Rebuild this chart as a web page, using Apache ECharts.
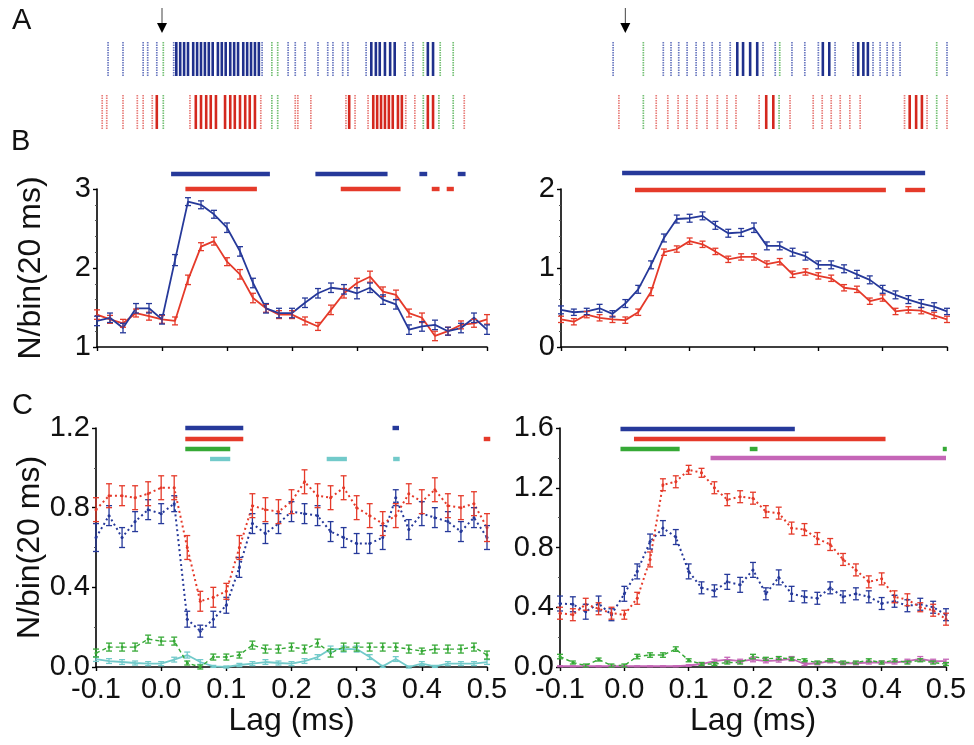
<!DOCTYPE html>
<html>
<head>
<meta charset="utf-8">
<title>Lag histograms</title>
<script src="https://cdn.jsdelivr.net/npm/echarts@6/dist/echarts.min.js"></script>
<style>
  html, body { margin: 0; padding: 0; background: #fff; }
</style>
</head>
<body>
<div id="main" style="width: 974px; height: 745px;"></div>
<script type="text/javascript">
// ---- data ----
var lags = [-0.1, -0.08, -0.06, -0.04, -0.02, 0, 0.02, 0.04, 0.06, 0.08, 0.1, 0.12, 0.14, 0.16, 0.18,
            0.2, 0.22, 0.24, 0.26, 0.28, 0.3, 0.32, 0.34, 0.36, 0.38, 0.4, 0.42, 0.44, 0.46, 0.48, 0.5];

// panel A, spike rasters (lag positions of each tick)
var rasterLeftBlueThin = [-0.083, -0.060, -0.029, -0.022, -0.008, 0.018, 0.154, 0.194, 0.205, 0.220, 0.240, 0.255,
                          0.263, 0.278, 0.286, 0.314, 0.374, 0.386];
var rasterLeftBlueThick = [0.022, 0.028, 0.034, 0.040, 0.048, 0.054, 0.060, 0.066, 0.072, 0.078, 0.086, 0.092, 0.098,
                           0.105, 0.111, 0.117, 0.125, 0.131, 0.137, 0.143, 0.149, 0.322, 0.329, 0.335, 0.343, 0.351,
                           0.358, 0.409, 0.417];
var rasterLeftBlueGreen = [0.002, 0.169, 0.178, 0.402, 0.428, 0.448];
var rasterLeftRedThin = [-0.092, -0.085, -0.060, -0.038, -0.029, -0.015, 0.043, 0.152, 0.205, 0.209, 0.229, 0.283,
                         0.297, 0.317, 0.375, 0.389, 0.465];
var rasterLeftRedThick = [-0.008, 0.052, 0.060, 0.068, 0.075, 0.083, 0.097, 0.105, 0.112, 0.120, 0.128, 0.135, 0.143,
                          0.288, 0.325, 0.331, 0.337, 0.343, 0.349, 0.355, 0.363, 0.369, 0.409, 0.417];
var rasterLeftRedGreen = [0.002, 0.169, 0.178, 0.402, 0.426, 0.448];

var rasterRightBlueThin = [-0.019, 0.059, 0.071, 0.083, 0.096, 0.110, 0.122, 0.135, 0.147, 0.163, 0.214, 0.233,
                           0.259, 0.279, 0.300, 0.326, 0.354, 0.385, 0.396, 0.407, 0.416, 0.427, 0.500];
var rasterRightBlueThick = [0.174, 0.183, 0.194, 0.205, 0.307, 0.317, 0.362, 0.370, 0.377];
var rasterRightBlueGreen = [0.028, 0.240, 0.484];
var rasterRightRedThin = [-0.010, 0.048, 0.066, 0.082, 0.096, 0.111, 0.127, 0.143, 0.158, 0.172, 0.208, 0.256,
                          0.292, 0.306, 0.320, 0.334, 0.349, 0.365, 0.434, 0.469, 0.500];
var rasterRightRedThick = [0.219, 0.230, 0.442, 0.452, 0.461];
var rasterRightRedGreen = [0.028, 0.239, 0.484];

// panel B
var bLeftBlue = [1.33, 1.37, 1.24, 1.49, 1.49, 1.35, 2.10, 2.84, 2.80, 2.68, 2.51, 2.21, 1.81, 1.49, 1.43, 1.43,
                 1.56, 1.68, 1.75, 1.73, 1.68, 1.75, 1.60, 1.54, 1.22, 1.26, 1.28, 1.20, 1.24, 1.37, 1.22];
var bLeftBlueErr = [0.06, 0.06, 0.06, 0.06, 0.06, 0.06, 0.07, 0.05, 0.05, 0.05, 0.06, 0.06, 0.06, 0.06, 0.06, 0.06,
                    0.06, 0.06, 0.06, 0.06, 0.07, 0.06, 0.06, 0.06, 0.06, 0.06, 0.06, 0.05, 0.06, 0.06, 0.06];
var bLeftRed = [1.41, 1.35, 1.30, 1.43, 1.39, 1.35, 1.33, 1.85, 2.27, 2.34, 2.08, 1.92, 1.62, 1.49, 1.41, 1.41,
                1.33, 1.26, 1.47, 1.68, 1.81, 1.89, 1.70, 1.66, 1.43, 1.37, 1.14, 1.20, 1.28, 1.30, 1.35];
var bLeftRedErr = [0.06, 0.05, 0.05, 0.05, 0.05, 0.05, 0.05, 0.06, 0.05, 0.05, 0.05, 0.06, 0.06, 0.05, 0.05, 0.05,
                   0.05, 0.05, 0.06, 0.06, 0.06, 0.07, 0.06, 0.06, 0.05, 0.06, 0.06, 0.05, 0.05, 0.05, 0.06];
var bRightBlue = [0.47, 0.44, 0.45, 0.49, 0.42, 0.55, 0.73, 1.04, 1.38, 1.62, 1.63, 1.66, 1.54, 1.44, 1.45, 1.51,
                  1.28, 1.28, 1.20, 1.15, 1.04, 1.04, 0.99, 0.92, 0.85, 0.73, 0.66, 0.60, 0.55, 0.51, 0.45];
var bRightBlueErr = [0.05, 0.04, 0.04, 0.05, 0.04, 0.05, 0.05, 0.05, 0.05, 0.05, 0.05, 0.05, 0.05, 0.05, 0.05, 0.06,
                     0.05, 0.05, 0.05, 0.05, 0.05, 0.05, 0.05, 0.05, 0.05, 0.05, 0.05, 0.05, 0.05, 0.05, 0.04];
var bRightRed = [0.35, 0.32, 0.41, 0.37, 0.35, 0.34, 0.44, 0.70, 1.20, 1.24, 1.34, 1.30, 1.21, 1.11, 1.14, 1.14,
                 1.05, 1.08, 0.92, 0.95, 0.90, 0.87, 0.75, 0.73, 0.58, 0.62, 0.45, 0.47, 0.46, 0.40, 0.35];
var bRightRedErr = [0.04, 0.04, 0.04, 0.04, 0.04, 0.04, 0.04, 0.05, 0.04, 0.04, 0.04, 0.04, 0.04, 0.04, 0.04, 0.04,
                    0.04, 0.04, 0.04, 0.04, 0.04, 0.04, 0.04, 0.04, 0.04, 0.04, 0.04, 0.04, 0.04, 0.04, 0.04];

// panel C
var cLeftBlue = [0.65, 0.76, 0.65, 0.73, 0.79, 0.77, 0.82, 0.24, 0.18, 0.24, 0.31, 0.50, 0.72, 0.67, 0.72, 0.78,
                 0.77, 0.76, 0.68, 0.65, 0.62, 0.62, 0.65, 0.85, 0.69, 0.77, 0.75, 0.73, 0.68, 0.75, 0.65];
var cLeftBlueErr = [0.07, 0.05, 0.05, 0.05, 0.05, 0.05, 0.04, 0.04, 0.03, 0.04, 0.04, 0.05, 0.05, 0.05, 0.05, 0.05,
                    0.05, 0.05, 0.05, 0.05, 0.05, 0.05, 0.06, 0.04, 0.05, 0.06, 0.05, 0.05, 0.05, 0.05, 0.06];
var cLeftRed = [0.79, 0.86, 0.86, 0.85, 0.87, 0.90, 0.90, 0.60, 0.33, 0.35, 0.38, 0.60, 0.81, 0.79, 0.78, 0.83,
                0.93, 0.86, 0.85, 0.90, 0.80, 0.76, 0.72, 0.76, 0.87, 0.83, 0.89, 0.81, 0.80, 0.82, 0.70];
var cLeftRedErr = [0.06, 0.06, 0.05, 0.06, 0.06, 0.06, 0.06, 0.06, 0.05, 0.05, 0.04, 0.06, 0.06, 0.06, 0.06, 0.06,
                   0.06, 0.06, 0.06, 0.06, 0.06, 0.06, 0.06, 0.06, 0.05, 0.06, 0.06, 0.06, 0.06, 0.06, 0.07];
var cLeftGreen = [0.07, 0.10, 0.10, 0.10, 0.14, 0.13, 0.13, 0.02, 0.00, 0.05, 0.05, 0.06, 0.11, 0.09, 0.09, 0.10,
                  0.09, 0.12, 0.07, 0.10, 0.10, 0.10, 0.10, 0.10, 0.09, 0.08, 0.09, 0.09, 0.09, 0.10, 0.06];
var cLeftGreenErr = [0.02, 0.02, 0.02, 0.02, 0.02, 0.02, 0.02, 0.01, 0.01, 0.015, 0.015, 0.015, 0.02, 0.02, 0.02, 0.02,
                     0.02, 0.02, 0.02, 0.02, 0.02, 0.02, 0.02, 0.02, 0.02, 0.015, 0.02, 0.02, 0.02, 0.02, 0.02];
var cLeftCyan = [0.04, 0.03, 0.025, 0.02, 0.017, 0.017, 0.037, 0.06, 0.025, 0.003, 0.0, 0.01, 0.017, 0.025, 0.02,
                 0.017, 0.03, 0.05, 0.09, 0.09, 0.09, 0.05, 0.003, 0.04, 0.0, 0.017, 0.003, 0.017, 0.017, 0.017, 0.025];
var cLeftCyanErr = [0.012, 0.012, 0.012, 0.01, 0.01, 0.01, 0.012, 0.015, 0.012, 0.005, 0.005, 0.008, 0.01, 0.012,
                    0.01, 0.01, 0.012, 0.012, 0.015, 0.015, 0.015, 0.012, 0.005, 0.012, 0.005, 0.01, 0.005, 0.01,
                    0.01, 0.01, 0.012];

var cRightBlue = [0.425, 0.42, 0.37, 0.425, 0.35, 0.49, 0.64, 0.84, 0.93, 0.87, 0.64, 0.53, 0.51, 0.57, 0.55, 0.65,
                  0.49, 0.60, 0.49, 0.47, 0.46, 0.53, 0.47, 0.49, 0.47, 0.425, 0.44, 0.41, 0.42, 0.40, 0.35];
var cRightBlueErr = [0.05, 0.05, 0.05, 0.05, 0.04, 0.05, 0.05, 0.05, 0.05, 0.05, 0.05, 0.04, 0.04, 0.05, 0.05, 0.05,
                     0.04, 0.05, 0.05, 0.04, 0.04, 0.04, 0.04, 0.04, 0.04, 0.04, 0.04, 0.04, 0.04, 0.04, 0.04];
var cRightRed = [0.36, 0.35, 0.42, 0.39, 0.36, 0.35, 0.46, 0.72, 1.22, 1.24, 1.32, 1.30, 1.20, 1.12, 1.14, 1.13,
                 1.04, 1.03, 0.93, 0.92, 0.86, 0.82, 0.72, 0.65, 0.57, 0.59, 0.47, 0.45, 0.40, 0.38, 0.32];
var cRightRedErr = [0.04, 0.04, 0.04, 0.04, 0.04, 0.03, 0.04, 0.05, 0.04, 0.04, 0.03, 0.03, 0.04, 0.04, 0.04, 0.04,
                    0.04, 0.04, 0.04, 0.04, 0.04, 0.04, 0.04, 0.04, 0.04, 0.04, 0.04, 0.04, 0.03, 0.04, 0.04];
var cRightGreen = [0.07, 0.03, 0.01, 0.05, 0.01, 0.01, 0.07, 0.08, 0.08, 0.12, 0.045, 0.02, 0.02, 0.03, 0.03, 0.07,
                   0.055, 0.06, 0.055, 0.045, 0.03, 0.045, 0.03, 0.03, 0.045, 0.03, 0.045, 0.03, 0.045, 0.03, 0.02];
var cRightGreenErr = [0.015, 0.01, 0.01, 0.01, 0.01, 0.01, 0.015, 0.015, 0.015, 0.015, 0.01, 0.01, 0.01, 0.01, 0.01,
                      0.015, 0.01, 0.01, 0.01, 0.01, 0.01, 0.01, 0.01, 0.01, 0.01, 0.01, 0.01, 0.01, 0.01, 0.01, 0.01];
var cRightMagenta = [0.005, 0.005, 0.005, 0.005, 0.005, 0.005, 0.005, 0.005, 0.005, 0.005, 0.01, 0.02, 0.04, 0.05,
                     0.04, 0.05, 0.04, 0.045, 0.055, 0.02, 0.025, 0.04, 0.025, 0.025, 0.03, 0.03, 0.03, 0.04, 0.055,
                     0.04, 0.04];
var cRightMagentaErr = [0.003, 0.003, 0.003, 0.003, 0.003, 0.003, 0.003, 0.003, 0.003, 0.003, 0.005, 0.01, 0.012,
                        0.015, 0.012, 0.015, 0.012, 0.012, 0.015, 0.01, 0.01, 0.012, 0.01, 0.01, 0.01, 0.01, 0.01,
                        0.012, 0.015, 0.012, 0.012];

// significance bars [start lag, end lag]
var sigBLeftBlue = [[0.014, 0.166], [0.236, 0.347], [0.396, 0.408], [0.455, 0.467]];
var sigBLeftRed = [[0.036, 0.146], [0.275, 0.367], [0.415, 0.427], [0.438, 0.449]];
var sigBRightBlue = [[-0.005, 0.466]];
var sigBRightRed = [[0.015, 0.405], [0.435, 0.466]];
var sigCLeftBlue = [[0.037, 0.126], [0.355, 0.365]];
var sigCLeftRed = [[0.037, 0.126], [0.495, 0.505]];
var sigCLeftGreen = [[0.037, 0.106]];
var sigCLeftCyan = [[0.075, 0.106], [0.254, 0.285], [0.356, 0.366]];
var sigCRightBlue = [[-0.006, 0.265]];
var sigCRightRed = [[0.015, 0.406]];
var sigCRightGreen = [[-0.006, 0.086], [0.195, 0.207], [0.495, 0.500]];
var sigCRightMagenta = [[0.134, 0.500]];

// ---- drawing ----
var FONT = 'Liberation Sans, Arial, sans-serif';
var BLUE = '#26399a', RED = '#e53a2a', GREEN = '#36a936', CYAN = '#72caca', MAGENTA = '#c566b7';

var myChart = echarts.init(document.getElementById('main'));

function pairs(vals) {
    return lags.map(function (l, i) { return [l, vals[i]]; });
}

function lineSeries(g, vals, color, opts) {
    opts = opts || {};
    return {
        type: 'line', xAxisIndex: g, yAxisIndex: g, data: pairs(vals),
        symbol: opts.dots ? 'circle' : 'none', symbolSize: 3,
        lineStyle: { color: color, width: opts.width || 1.8, type: opts.dash || 'solid' },
        itemStyle: { color: color },
        silent: true, z: 3, animation: false
    };
}

function errSeries(g, vals, errs, color) {
    return {
        type: 'custom', xAxisIndex: g, yAxisIndex: g, silent: true, animation: false, z: 4,
        data: lags.map(function (l, i) { return [l, vals[i], errs[i]]; }),
        renderItem: function (params, api) {
            var x = api.value(0), v = api.value(1), e = api.value(2);
            var top = api.coord([x, v + e]), bot = api.coord([x, v - e]);
            var w = 3;
            var st = { stroke: color, lineWidth: 1.3 };
            return {
                type: 'group', children: [
                    { type: 'line', shape: { x1: top[0], y1: top[1], x2: bot[0], y2: bot[1] }, style: st },
                    { type: 'line', shape: { x1: top[0] - w, y1: top[1], x2: top[0] + w, y2: top[1] }, style: st },
                    { type: 'line', shape: { x1: bot[0] - w, y1: bot[1], x2: bot[0] + w, y2: bot[1] }, style: st }
                ]
            };
        }
    };
}

// significance bars sit at a fixed pixel offset from the top of their grid
function sigSeries(g, segs, color, offset) {
    return {
        type: 'custom', xAxisIndex: g, yAxisIndex: g, silent: true, animation: false, clip: false,
        data: segs,
        renderItem: function (params, api) {
            var cs = params.coordSys;
            var x1 = api.coord([api.value(0), 0])[0], x2 = api.coord([api.value(1), 0])[0];
            return {
                type: 'rect', shape: { x: x1, y: cs.y + offset - 2.2, width: Math.max(x2 - x1, 4), height: 4.4 },
                style: { fill: color }
            };
        }
    };
}

function rasterSeries(g, lists) {
    var data = [];
    lists.forEach(function (arr, k) {
        arr.forEach(function (l) { data.push([l, k < 3 ? 0 : 1, k % 3]); });
    });
    return {
        type: 'custom', xAxisIndex: g, yAxisIndex: g, silent: true, animation: false, clip: false,
        data: data,
        renderItem: function (params, api) {
            var cs = params.coordSys;
            var x = api.coord([api.value(0), 0])[0];
            var row = api.value(1), kind = api.value(2);
            var y0 = cs.y + (row === 0 ? 0 : 53);
            var col;
            if (kind === 2) col = '#74c074';
            else if (row === 0) col = kind === 1 ? '#1f308c' : '#6a78c0';
            else col = kind === 1 ? '#d4281e' : '#e87e7a';
            return {
                type: 'line', shape: { x1: x, y1: y0, x2: x, y2: y0 + 34 },
                style: { stroke: col, lineWidth: kind === 1 ? 2.6 : 1.7, lineDash: kind === 1 ? null : [1.4, 1.1] }
            };
        }
    };
}

function arrowSeries(g) {
    return {
        type: 'custom', xAxisIndex: g, yAxisIndex: g, silent: true, animation: false, clip: false,
        data: [[0]],
        renderItem: function (params, api) {
            var cs = params.coordSys;
            var x = api.coord([0, 0])[0];
            var tip = cs.y - 9;
            return {
                type: 'group', children: [
                    { type: 'line', shape: { x1: x, y1: tip - 25, x2: x, y2: tip - 8 }, style: { stroke: '#444', lineWidth: 1 } },
                    { type: 'polygon', shape: { points: [[x - 5, tip - 10], [x + 5, tip - 10], [x, tip]] }, style: { fill: '#000' } }
                ]
            };
        }
    };
}

var grids = [
    { left: 97, width: 390, top: 42, height: 86 },
    { left: 561, width: 386, top: 42, height: 86 },
    { left: 97, width: 390, top: 189, height: 158 },
    { left: 561, width: 386, top: 189, height: 158 },
    { left: 96, width: 391, top: 428, height: 239 },
    { left: 560, width: 386, top: 428, height: 239 }
];

var axisLine = { show: true, onZero: false, lineStyle: { color: '#000', width: 1.6 } };
var labelStyle = { color: '#111', fontSize: 29, fontFamily: FONT };

function xAxisFor(g) {
    var base = { gridIndex: g, type: 'value', min: -0.1, max: 0.5, interval: 0.1, splitLine: { show: false } };
    if (g < 2) { base.show = false; return base; }
    base.axisLine = axisLine;
    base.axisTick = { show: true, length: 4, lineStyle: { color: '#000', width: 1.4 } };
    if (g < 4) {
        base.axisLabel = { show: false };
    } else {
        base.axisLabel = Object.assign({ margin: 8, formatter: function (v) { return v.toFixed(1); } }, labelStyle);
        base.name = 'Lag (ms)';
        base.nameLocation = 'middle';
        base.nameGap = 37;
        base.nameTextStyle = { color: '#111', fontSize: 32, fontFamily: FONT };
    }
    return base;
}

function yAxisFor(g, min, max, interval, minorSplit, digits, named) {
    if (g < 2) return { gridIndex: g, type: 'value', min: 0, max: 1, show: false };
    var ax = {
        gridIndex: g, type: 'value', min: min, max: max, interval: interval,
        splitLine: { show: false },
        axisLine: axisLine,
        axisTick: { show: true, length: 4, lineStyle: { color: '#000', width: 1.4 } },
        minorTick: { show: true, splitNumber: minorSplit, length: 2, lineStyle: { color: '#555', width: 1 } },
        axisLabel: Object.assign({ margin: 6, formatter: function (v) { return v.toFixed(digits); } }, labelStyle)
    };
    if (named) {
        ax.name = 'N/bin(20 ms)';
        ax.nameLocation = 'middle';
        ax.nameGap = 50;
        ax.nameTextStyle = { color: '#111', fontSize: 32, fontFamily: FONT };
    }
    return ax;
}

var series = [
    rasterSeries(0, [rasterLeftBlueThin, rasterLeftBlueThick, rasterLeftBlueGreen,
                     rasterLeftRedThin, rasterLeftRedThick, rasterLeftRedGreen]),
    rasterSeries(1, [rasterRightBlueThin, rasterRightBlueThick, rasterRightBlueGreen,
                     rasterRightRedThin, rasterRightRedThick, rasterRightRedGreen]),
    arrowSeries(0), arrowSeries(1),

    lineSeries(2, bLeftRed, RED), errSeries(2, bLeftRed, bLeftRedErr, RED),
    lineSeries(2, bLeftBlue, BLUE), errSeries(2, bLeftBlue, bLeftBlueErr, BLUE),
    sigSeries(2, sigBLeftBlue, BLUE, -15), sigSeries(2, sigBLeftRed, RED, 0),

    lineSeries(3, bRightRed, RED), errSeries(3, bRightRed, bRightRedErr, RED),
    lineSeries(3, bRightBlue, BLUE), errSeries(3, bRightBlue, bRightBlueErr, BLUE),
    sigSeries(3, sigBRightBlue, BLUE, -16), sigSeries(3, sigBRightRed, RED, 1),

    lineSeries(4, cLeftCyan, CYAN, { width: 1.8 }), errSeries(4, cLeftCyan, cLeftCyanErr, CYAN),
    lineSeries(4, cLeftGreen, GREEN, { dash: [4, 3], width: 1.4, dots: true }), errSeries(4, cLeftGreen, cLeftGreenErr, GREEN),
    lineSeries(4, cLeftBlue, BLUE, { dash: [2, 3], width: 2, dots: true }), errSeries(4, cLeftBlue, cLeftBlueErr, BLUE),
    lineSeries(4, cLeftRed, RED, { dash: [2, 3], width: 2, dots: true }), errSeries(4, cLeftRed, cLeftRedErr, RED),
    sigSeries(4, sigCLeftBlue, BLUE, 0), sigSeries(4, sigCLeftRed, RED, 11),
    sigSeries(4, sigCLeftGreen, GREEN, 21), sigSeries(4, sigCLeftCyan, CYAN, 31),

    lineSeries(5, cRightMagenta, MAGENTA, { width: 1.8 }), errSeries(5, cRightMagenta, cRightMagentaErr, MAGENTA),
    lineSeries(5, cRightGreen, GREEN, { dash: [4, 3], width: 1.4, dots: true }), errSeries(5, cRightGreen, cRightGreenErr, GREEN),
    lineSeries(5, cRightBlue, BLUE, { dash: [2, 3], width: 2, dots: true }), errSeries(5, cRightBlue, cRightBlueErr, BLUE),
    lineSeries(5, cRightRed, RED, { dash: [2, 3], width: 2, dots: true }), errSeries(5, cRightRed, cRightRedErr, RED),
    sigSeries(5, sigCRightBlue, BLUE, 1), sigSeries(5, sigCRightRed, RED, 11),
    sigSeries(5, sigCRightGreen, GREEN, 21), sigSeries(5, sigCRightMagenta, MAGENTA, 30)
];

var option = {
    backgroundColor: '#fff',
    animation: false,
    grid: grids,
    xAxis: grids.map(function (gr, i) { return xAxisFor(i); }),
    yAxis: [
        yAxisFor(0), yAxisFor(1),
        yAxisFor(2, 1, 3, 1, 5, 0, true),
        yAxisFor(3, 0, 2, 1, 5, 0, false),
        yAxisFor(4, 0, 1.2, 0.4, 2, 1, true),
        yAxisFor(5, 0, 1.6, 0.4, 2, 1, false)
    ],
    graphic: [
        { type: 'text', left: 12, top: 6, style: { text: 'A', font: '29px ' + FONT, fill: '#111' } },
        { type: 'text', left: 11, top: 127, style: { text: 'B', font: '29px ' + FONT, fill: '#111' } },
        { type: 'text', left: 12, top: 391, style: { text: 'C', font: '29px ' + FONT, fill: '#111' } }
    ],
    series: series
};

myChart.setOption(option);
</script>
</body>
</html>
